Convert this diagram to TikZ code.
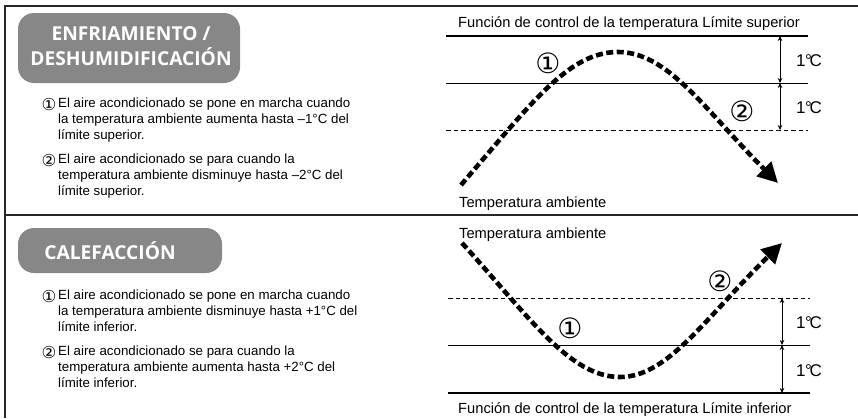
\documentclass[tikz,border=0pt]{standalone}
\usepackage{fontspec}
\setmainfont{Liberation Sans}
\newfontfamily\headfont{Open Sans}
\newfontfamily\symfont{DejaVu Sans}
\usetikzlibrary{arrows.meta}
\tikzset{
  x=1pt, y=-1pt,
  frame/.style={line width=1.3pt, draw=black!85},
  graybox/.style={fill=black!47, draw=none, rounded corners=16pt},
  headtxt/.style={text=white, font=\headfont\bfseries\fontsize{19.2}{25}\selectfont, align=center, inner sep=0pt},
  body/.style={font=\fontsize{13.3}{16.2}\selectfont, align=left, anchor=north west, inner sep=0pt},
  num/.style={font=\symfont\fontsize{16.5}{17}\selectfont, inner sep=0pt},
  bignum/.style={font=\symfont\fontsize{28}{29}\selectfont, inner sep=0pt},
  lbl/.style={font=\fontsize{14.7}{17}\selectfont, anchor=base west, inner sep=0pt},
  deg/.style={font=\fontsize{17}{18}\selectfont, inner sep=0pt},
  thickline/.style={line width=2.6pt},
  thinline/.style={line width=0.9pt},
  dashline/.style={line width=0.9pt, dash pattern=on 4.5pt off 3pt},
  temp/.style={line width=4.6pt, dash pattern=on 7pt off 3.5pt, -{Triangle[length=20pt,width=20pt]}},
  dim/.style={line width=0.8pt, {Stealth[length=5pt,width=4.5pt]}-{Stealth[length=5pt,width=4.5pt]}}
}
\newcommand{\degC}{1\kern-0.5pt°\kern-2.5ptC}
\begin{document}
\begin{tikzpicture}
\useasboundingbox (0,0) rectangle (858,418);
% frame
\draw[frame] (5,418) -- (5,6) -- (860,6);
\draw[frame] (5,215) -- (860,215);

% ---- top left
\fill[graybox] (18,13) rectangle (240,83);
\node[headtxt] (h1) at (131,46) {ENFRIAMIENTO /\\DESHUMIDIFICACIÓN};
\node[num] (n1a) at (49,104) {①};
\node[body] (t1a) at (58,97.5) {El aire acondicionado se pone en marcha cuando\\la temperatura ambiente aumenta hasta –1°C del\\límite superior.};
\node[num] (n1b) at (49,160) {②};
\node[body] (t1b) at (58,153.5) {El aire acondicionado se para cuando la\\temperatura ambiente disminuye hasta –2°C del\\límite superior.};

% ---- bottom left
\fill[graybox] (18,228) rectangle (222,273);
\node[headtxt] (h2) at (110,251) {CALEFACCIÓN};
\node[num] (n2a) at (49,296) {①};
\node[body] (t2a) at (58,289.5) {El aire acondicionado se pone en marcha cuando\\la temperatura ambiente disminuye hasta +1°C del\\límite inferior.};
\node[num] (n2b) at (49,352) {②};
\node[body] (t2b) at (58,345.5) {El aire acondicionado se para cuando la\\temperatura ambiente aumenta hasta +2°C del\\límite inferior.};

% ---- top right chart
\node[lbl] (f1) at (458,27) {Función de control de la temperatura Límite superior};
\coordinate (u1) at (446,36); \coordinate (u2) at (808,36);
\coordinate (m1) at (446,83); \coordinate (m2) at (808,83);
\coordinate (d1) at (446,130); \coordinate (d2) at (808,130);
\draw[thickline] (u1) -- (u2);
\draw[thinline] (m1) -- (m2);
\draw[dashline] (d1) -- (d2);
\coordinate (a1) at (780,36); \coordinate (a2) at (780,83); \coordinate (a3) at (780,130);
\draw[dim] (a1) -- (a2);
\draw[dim] (a2) -- (a3);
\node[deg] (c1) at (809,61) {\degC};
\node[deg] (c2) at (809,108) {\degC};
\coordinate (s1) at (461,185);
\coordinate (p1) at (618,52);
\coordinate (e1) at (778,183);
\draw[temp] (s1) .. controls (530,105) and (568,52) .. (p1) .. controls (668,52) and (705,110) .. (e1);
\node[bignum] (q1) at (548,63) {①};
\node[bignum] (q2) at (742,111) {②};
\node[lbl] (ta1) at (459,207) {Temperatura ambiente};

% ---- bottom right chart
\node[lbl] (ta2) at (459,238) {Temperatura ambiente};
\coordinate (D1) at (448,298); \coordinate (D2) at (810,298);
\coordinate (M1) at (448,345); \coordinate (M2) at (810,345);
\coordinate (L1) at (448,393); \coordinate (L2) at (810,393);
\draw[dashline] (D1) -- (D2);
\draw[thinline] (M1) -- (M2);
\draw[thickline] (L1) -- (L2);
\coordinate (b1) at (782,298); \coordinate (b2) at (782,345); \coordinate (b3) at (782,393);
\draw[dim] (b1) -- (b2);
\draw[dim] (b2) -- (b3);
\node[deg] (c3) at (809,323) {\degC};
\node[deg] (c4) at (809,371) {\degC};
\coordinate (s2) at (462,243);
\coordinate (p2) at (620,377);
\coordinate (e2) at (782,243);
\draw[temp] (s2) .. controls (530,318) and (570,377) .. (p2) .. controls (668,377) and (705,318) .. (e2);
\node[bignum] (q3) at (570,328) {①};
\node[bignum] (q4) at (720,281) {②};
\node[lbl] (f2) at (458,413) {Función de control de la temperatura Límite inferior};
\end{tikzpicture}
\end{document}
